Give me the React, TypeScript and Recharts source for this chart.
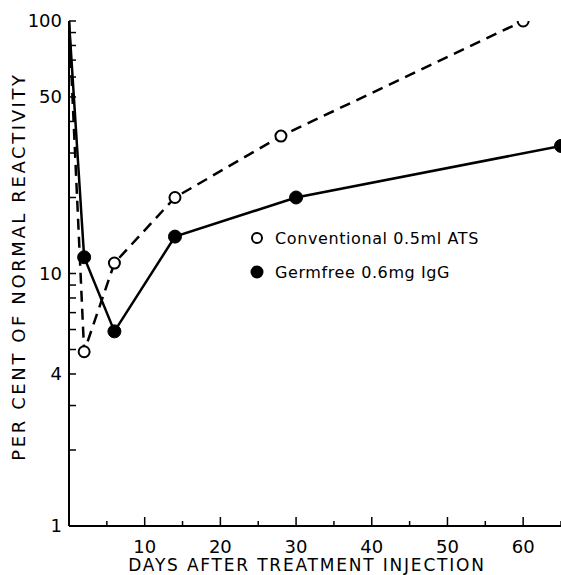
import React from "react";
import { LineChart, Line, XAxis, YAxis } from "recharts";

// Conventional 0.5ml ATS (open circles, dashed)
const convDays = [0, 2, 6, 14, 28, 60];
const convValues = [100, 4.9, 11, 20, 35, 100];

// Germfree 0.6mg IgG (filled circles, solid)
const germDays = [0, 2, 6, 14, 30, 65];
const germValues = [100, 11.6, 5.9, 14, 20, 32];

const xTicks = [5, 10, 15, 20, 25, 30, 35, 40, 45, 50, 55, 60, 65];
const xLabels = [10, 20, 30, 40, 50, 60];
const yTicks = [1, 2, 3, 4, 5, 6, 7, 8, 9, 10, 20, 30, 40, 50, 60, 70, 80, 90, 100];
const yLabels = [1, 4, 10, 50, 100];

const legendNames = ["Conventional 0.5ml ATS", "Germfree 0.6mg IgG"];

const conventional = convDays.map((d, i) => ({ day: d, value: convValues[i] }));
const germfree = germDays.map((d, i) => ({ day: d, value: germValues[i] }));

const FONT = "'DejaVu Sans', sans-serif";

const YTick = (props: any) => {
  const { x, y, payload } = props;
  const v = payload.value;
  return (
    <g>
      <line x1={x} x2={x + 7} y1={y} y2={y} stroke="#000" strokeWidth={1.5} />
      {yLabels.includes(v) && (
        <text x={x - 7} y={y} dy={6} textAnchor="end" fontSize={18} fontFamily={FONT} fill="#000">
          {v}
        </text>
      )}
    </g>
  );
};

const XTick = (props: any) => {
  const { x, y, payload } = props;
  const v = payload.value;
  const major = v % 10 === 0;
  return (
    <g>
      <line x1={x} x2={x} y1={y} y2={y - (major ? 9 : 5)} stroke="#000" strokeWidth={1.5} />
      {xLabels.includes(v) && (
        <text x={x} y={y + 27} textAnchor="middle" fontSize={18} fontFamily={FONT} fill="#000">
          {v}
        </text>
      )}
    </g>
  );
};

const openDot = (p: any) =>
  p.index === 0 ? (
    <g key={`o-${p.index}`} />
  ) : (
    <circle key={`o-${p.index}`} cx={p.cx} cy={p.cy} r={5.5} fill="#fff" stroke="#000" strokeWidth={2} />
  );

const filledDot = (p: any) =>
  p.index === 0 ? (
    <g key={`f-${p.index}`} />
  ) : (
    <circle key={`f-${p.index}`} cx={p.cx} cy={p.cy} r={6.5} fill="#000" stroke="#000" />
  );

export default function App() {
  return (
    <div style={{ position: "absolute", left: 0, top: 0, width: 561, height: 575, background: "#fff" }}>
      <LineChart width={561} height={575} margin={{ top: 21, right: 0, bottom: 0, left: 9 }}>
        <XAxis
          type="number"
          dataKey="day"
          domain={[0, 65]}
          ticks={xTicks}
          interval={0}
          allowDataOverflow
          height={49}
          tickSize={0}
          tickMargin={0}
          tickLine={false}
          tick={<XTick />}
          axisLine={{ stroke: "#000", strokeWidth: 2 }}
          label={{
            value: "DAYS AFTER TREATMENT INJECTION",
            position: "insideBottom",
            offset: 4,
            dx: -8,
            fontSize: 17,
            fontFamily: FONT,
            fill: "#000",
            letterSpacing: 1.8,
          }}
        />
        <YAxis
          type="number"
          scale="log"
          domain={[1, 100]}
          ticks={yTicks}
          interval={0}
          allowDataOverflow
          width={60}
          tickSize={0}
          tickMargin={0}
          tickLine={false}
          tick={<YTick />}
          axisLine={{ stroke: "#000", strokeWidth: 2 }}
          label={{
            value: "PER CENT OF NORMAL REACTIVITY",
            angle: -90,
            position: "insideLeft",
            offset: 10,
            dy: -7,
            style: { textAnchor: "middle" },
            fontSize: 18,
            fontFamily: FONT,
            fill: "#000",
            letterSpacing: 2.6,
          }}
        />
        <Line
          data={conventional}
          dataKey="value"
          name={legendNames[0]}
          type="linear"
          stroke="#000"
          strokeWidth={2.5}
          strokeDasharray="11 7"
          dot={openDot}
          activeDot={false}
          isAnimationActive={false}
        />
        <Line
          data={germfree}
          dataKey="value"
          name={legendNames[1]}
          type="linear"
          stroke="#000"
          strokeWidth={2.5}
          dot={filledDot}
          activeDot={false}
          isAnimationActive={false}
        />
      </LineChart>
      <svg width={260} height={60} style={{ position: "absolute", left: 250, top: 228 }}>
        <circle cx={7} cy={10} r={5} fill="#fff" stroke="#000" strokeWidth={2} />
        <text x={25} y={16} fontSize={16} fontFamily={FONT} fill="#000" letterSpacing={0.6}>
          {legendNames[0]}
        </text>
        <circle cx={7} cy={44} r={6.5} fill="#000" />
        <text x={25} y={50} fontSize={16} fontFamily={FONT} fill="#000" letterSpacing={0.6}>
          {legendNames[1]}
        </text>
      </svg>
    </div>
  );
}
